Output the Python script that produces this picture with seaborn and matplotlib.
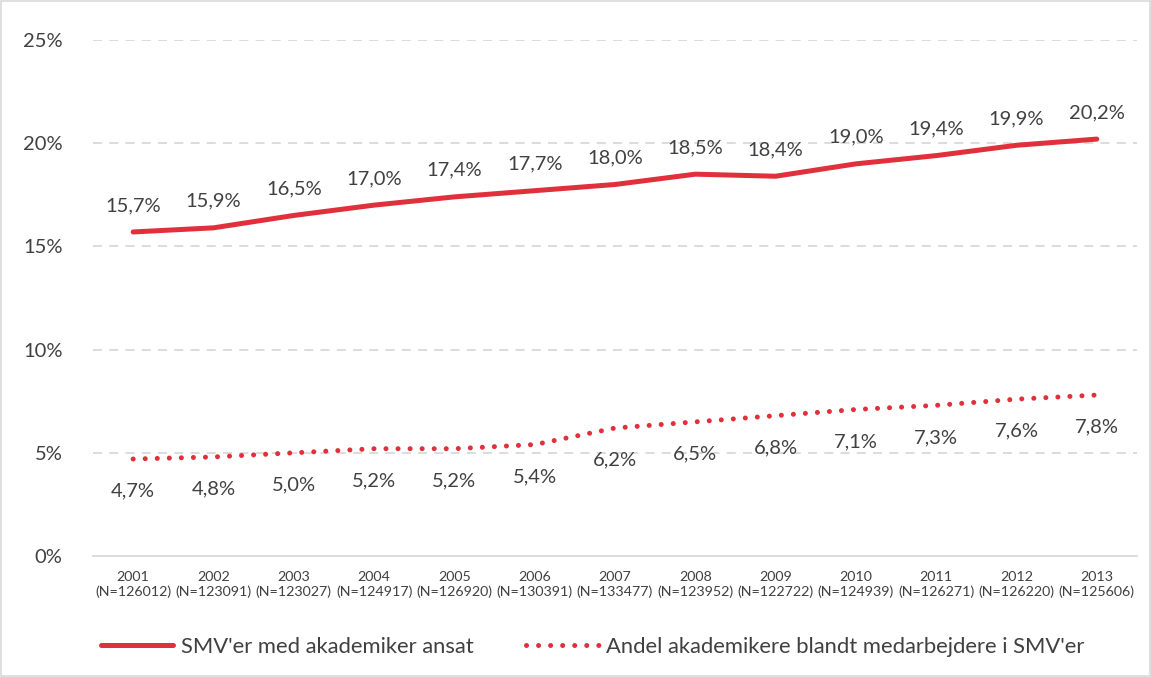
import matplotlib.pyplot as plt
import matplotlib.patches as mpatches
import pandas as pd
import seaborn as sns

YEARS = ["2001", "2002", "2003", "2004", "2005", "2006", "2007",
         "2008", "2009", "2010", "2011", "2012", "2013"]
N_VALUES = ["126012", "123091", "123027", "124917", "126920", "130391", "133477",
            "123952", "122722", "124939", "126271", "126220", "125606"]
SMV_WITH_ACADEMIC = [15.7, 15.9, 16.5, 17.0, 17.4, 17.7, 18.0, 18.5, 18.4, 19.0, 19.4, 19.9, 20.2]
ACADEMIC_SHARE = [4.7, 4.8, 5.0, 5.2, 5.2, 5.4, 6.2, 6.5, 6.8, 7.1, 7.3, 7.6, 7.8]
SERIES_NAMES = ["SMV'er med akademiker ansat", "Andel akademikere blandt medarbejdere i SMV'er"]

RED = "#E0303C"
TEXT = "#404040"
DOTS = (0.01, 2.4)

sns.set_theme(style="white")
plt.rcParams["font.family"] = ["Lato", "DejaVu Sans"]

rows = []
for i, year in enumerate(YEARS):
    rows.append({"pos": i, "value": SMV_WITH_ACADEMIC[i], "series": SERIES_NAMES[0]})
    rows.append({"pos": i, "value": ACADEMIC_SHARE[i], "series": SERIES_NAMES[1]})
df = pd.DataFrame(rows)

fig = plt.figure(figsize=(11.51, 6.77), dpi=100)
fig.patches.append(mpatches.Rectangle((0.001, 0.001), 0.998, 0.998, transform=fig.transFigure,
                                      fill=False, edgecolor="#D9D9D9", linewidth=1.2))
ax = fig.add_axes([0.0808, 0.1787, 0.907, 0.7622])

sns.lineplot(data=df, x="pos", y="value", hue="series", style="series",
             palette=[RED, RED], dashes=[(None, None), DOTS],
             linewidth=3.6, legend=False, ax=ax)
ax.lines[0].set_solid_capstyle("round")
ax.lines[1].set_dash_capstyle("round")

for i in range(len(YEARS)):
    ax.annotate(f"{SMV_WITH_ACADEMIC[i]:.1f}%".replace(".", ","), (i, SMV_WITH_ACADEMIC[i]),
                xytext=(0, 13), textcoords="offset points", ha="center", va="bottom",
                fontsize=14.5, color=TEXT)
    ax.annotate(f"{ACADEMIC_SHARE[i]:.1f}%".replace(".", ","), (i, ACADEMIC_SHARE[i]),
                xytext=(0, -17), textcoords="offset points", ha="center", va="top",
                fontsize=14.5, color=TEXT)

ax.set_xlim(-0.5, len(YEARS) - 0.5)
ax.set_ylim(0, 25)
ax.set_yticks([0, 5, 10, 15, 20, 25])
ax.set_yticklabels([f"{v}%" for v in [0, 5, 10, 15, 20, 25]], fontsize=14.5, color=TEXT)
ax.set_xticks(range(len(YEARS)))
ax.set_xticklabels([f"{y}\n(N={n})" for y, n in zip(YEARS, N_VALUES)], fontsize=10.3,
                   color=TEXT, linespacing=1.25)
ax.tick_params(axis="x", length=0, pad=11)
ax.tick_params(axis="y", length=0, pad=22)
ax.set_xlabel("")
ax.set_ylabel("")

for y in [5, 10, 15, 20, 25]:
    ax.axhline(y, color="#D9D9D9", linewidth=1.3, linestyle=(0, (5, 4)), zorder=0)
for side in ["top", "right", "left"]:
    ax.spines[side].set_visible(False)
ax.spines["bottom"].set_color("#D9D9D9")
ax.spines["bottom"].set_linewidth(1.3)

handles = [plt.Line2D([], [], color=RED, linewidth=3.6, solid_capstyle="round"),
           plt.Line2D([], [], color=RED, linewidth=3.6, dashes=DOTS, dash_capstyle="round")]
fig.legend(handles, SERIES_NAMES, loc="center", bbox_to_anchor=(0.515, 0.045), ncol=2,
           frameon=False, fontsize=15.8, handlelength=3.3, handletextpad=0.35,
           columnspacing=2.4, labelcolor=TEXT)

fig.savefig("out.png", dpi=100)
